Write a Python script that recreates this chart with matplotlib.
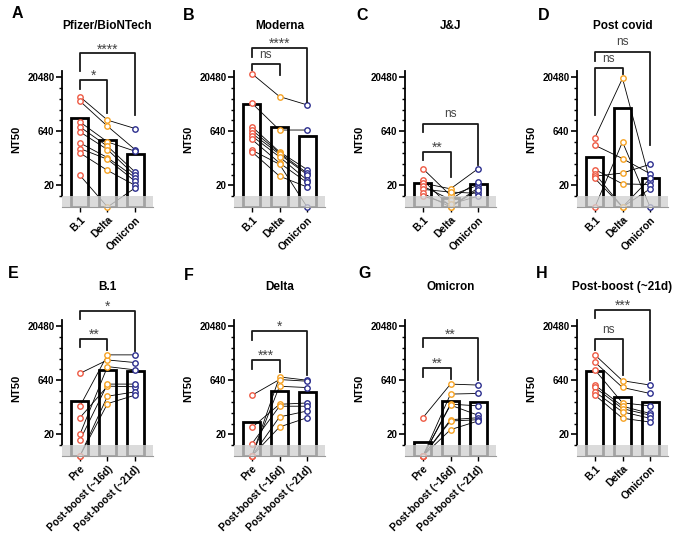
import numpy as np
import matplotlib.pyplot as plt
from matplotlib.ticker import NullFormatter

plt.rcParams['font.family'] = ['Liberation Sans', 'DejaVu Sans']
plt.rcParams['font.weight'] = 'bold'

RED = '#ee5a44'
ORANGE = '#f6a223'
BLUE = '#2c2e8e'
FLOOR = 5     # undetectable samples are drawn here
LOD = 10      # limit of detection -> grey band

# A  Pfizer/BioNTech
pfizer_b1 = [5800, 4400, 1160, 845, 614, 302, 211, 159, 38]
pfizer_delta = [1300, 880, 322, 244, 197, 118, 106, 52, 5]
pfizer_omicron = [760, 197, 178, 47, 38, 33, 26, 20, 17]
# B  Moderna
moderna_b1 = [25400, 3850, 855, 690, 557, 469, 378, 190, 171]
moderna_delta = [5880, 690, 171, 160, 147, 124, 84, 77, 36]
moderna_omicron = [3450, 690, 55, 44, 40, 28, 24, 5, 18]
# C  J&J
jj_b1 = [58, 28, 23, 19, 15.5, 12, 10]
jj_delta = [10.5, 5, 16, 8, 13, 5, 6]
jj_omicron = [20, 17, 58, 25, 12, 15, 10]
# D  Post covid
covid_b1 = [425, 260, 55, 42, 36, 31, 5]
covid_delta = [18860, 111, 22, 5, 44, 5, 322]
covid_omicron = [26, 42, 21, 31, 77, 16, 5]
# E  B.1 pre / post boost
b1_pre = [990, 121, 58, 20, 13.6, 5, 5]
b1_post16 = [2340, 3240, 438, 1530, 499, 230, 143]
b1_post21 = [1980, 3240, 420, 1240, 499, 303, 246]
# F  Delta pre / post boost
delta_pre = [5, 244, 5, 31, 11, 5, 5]
delta_post16 = [788, 668, 434, 137, 121, 61, 32]
delta_post21 = [640, 600, 400, 149, 121, 89, 58]
# G  Omicron pre / post boost
omi_pre = [58, 5, 5, 5, 5, 5, 5]
omi_post16 = [499, 263, 138, 130, 51, 47, 27]
omi_post21 = [469, 274, 124, 68, 58, 51, 47]
# H  Post-boost (~21d)
pb_b1 = [3240, 2020, 1240, 469, 402, 304, 246]
pb_delta = [619, 402, 150, 121, 104, 84, 56]
pb_omicron = [469, 274, 124, 76, 68, 56, 44]

variants = ['B.1', 'Delta', 'Omicron']
timepoints = ['Pre', 'Post-boost (~16d)', 'Post-boost (~21d)']

# brackets: (from, to, label, bar level, left leg end, right leg end) in doublings above 20
panels = [
    ('A', 'Pfizer/BioNTech', variants, [pfizer_b1, pfizer_delta, pfizer_omicron],
     [(0, 1, '*', 9.72, 8.89, 6.67), (0, 2, '****', 12.19, 10.56, 6.48)]),
    ('B', 'Moderna', variants, [moderna_b1, moderna_delta, moderna_omicron],
     [(0, 1, 'ns', 11.18, 10.65, 10.19), (0, 2, '****', 12.66, 11.82, 7.7)]),
    ('C', 'J&J', variants, [jj_b1, jj_delta, jj_omicron],
     [(0, 1, '**', 3.09, 2.38, 0.77), (0, 2, 'ns', 5.71, 4.94, 1.9)]),
    ('D', 'Post covid', variants, [covid_b1, covid_delta, covid_omicron],
     [(0, 1, 'ns', 10.8, 6.48, 10.25), (0, 2, 'ns', 12.34, 11.5, 3.7)]),
    ('E', 'B.1', timepoints, [b1_pre, b1_post16, b1_post21],
     [(0, 1, '**', 8.8, 8.03, 7.78), (0, 2, '*', 11.42, 10.62, 7.7)]),
    ('F', 'Delta', timepoints, [delta_pre, delta_post16, delta_post21],
     [(0, 1, '***', 6.85, 6.08, 5.77), (0, 2, '*', 9.57, 8.7, 5.5)]),
    ('G', 'Omicron', timepoints, [omi_pre, omi_post16, omi_post21],
     [(0, 1, '**', 6.17, 5.31, 5.15), (0, 2, '**', 8.86, 8.03, 5.0)]),
    ('H', 'Post-boost (~21d)', variants, [pb_b1, pb_delta, pb_omicron],
     [(0, 1, 'ns', 8.8, 7.78, 5.46), (0, 2, '***', 11.48, 10.71, 5.0)]),
]

W, H = 680, 538
lefts = [62, 234, 405, 577]
row_bottoms = [207, 456]
title_y = [1.331, 1.243]
letter_pos = [(17, 14), (189, 15), (362, 15), (544, 15),
              (13, 274), (189, 275), (365, 274), (542, 273)]
ytop = 20 * 2 ** 10.56

fig = plt.figure(figsize=(W / 100, H / 100), dpi=100)

for k, (letter, title, cats, groups, brackets) in enumerate(panels):
    row, col = divmod(k, 4)
    ax = fig.add_axes([lefts[col] / W, 1 - row_bottoms[row] / H, 91 / W, 136 / H])
    x = np.arange(len(cats))
    means = np.array([np.mean(g) for g in groups])

    ax.bar(x, means - FLOOR, bottom=FLOOR, width=0.62, color='white',
           edgecolor='black', lw=2, zorder=1)
    for subj in zip(*groups):
        ax.plot(x, subj, color='black', lw=0.6, zorder=2, clip_on=False)
    for xi, g, c in zip(x, groups, [RED, ORANGE, BLUE]):
        ax.plot([xi] * len(g), g, 'o', ls='none', mfc='white', mec=c, ms=3.9,
                mew=1.0, zorder=3, clip_on=False)
    ax.axhspan(FLOOR, LOD, color='#d2d2d2', alpha=0.78, lw=0, zorder=4)

    ax.set_yscale('log', base=2)
    ax.set_ylim(FLOOR, ytop)
    ax.set_xlim(-0.65, 2.65)
    ax.set_yticks([20, 640, 20480])
    ax.set_yticklabels(['20', '640', '20480'])
    ax.set_yticks([10 * 2 ** i for i in range(12)], minor=True)
    ax.yaxis.set_minor_formatter(NullFormatter())
    ax.tick_params(axis='y', which='major', length=4, width=1.2, labelsize=7, pad=1.5)
    ax.tick_params(axis='y', which='minor', length=2.5, width=1)
    ax.set_xticks(x)
    ax.set_xticklabels(cats, rotation=45, ha='right', va='top',
                       rotation_mode='anchor', fontsize=7.5)
    ax.tick_params(axis='x', length=3.5, width=1, pad=2)

    for s in ['top', 'right']:
        ax.spines[s].set_visible(False)
    ax.spines['left'].set_linewidth(1.3)
    ax.spines['left'].set_bounds(LOD, ytop)
    ax.spines['bottom'].set_color('#9a9a9a')
    ax.spines['bottom'].set_linewidth(0.8)
    ax.spines['bottom'].set_zorder(5)

    ax.set_ylabel('NT50', fontsize=8, fontweight='bold')
    ax.yaxis.set_label_coords(-0.45, 0.5)

    for i, j, label, top, lft, rgt in brackets:
        yt, yl, yr = 20 * 2 ** top, 20 * 2 ** lft, 20 * 2 ** rgt
        ax.plot([i, i, j, j], [yl, yt, yt, yr], color='#1a1a1a', lw=1.3,
                clip_on=False, zorder=5)
        ns = label == 'ns'
        ax.annotate(label, xy=((i + j) / 2, yt), xytext=(0, 4.5 if ns else 0),
                    textcoords='offset points', ha='center', va='baseline',
                    fontsize=8.5 if ns else 10, fontweight='normal', color='#444444',
                    annotation_clip=False)

    ax.text(0.5, title_y[row], title, transform=ax.transAxes, ha='center',
            va='center', fontsize=8.5, fontweight='bold')
    lx, ly = letter_pos[k]
    fig.text(lx / W, 1 - ly / H, letter, ha='center', va='center',
             fontsize=11.5, fontweight='bold')

fig.savefig('out.png', dpi=100)
